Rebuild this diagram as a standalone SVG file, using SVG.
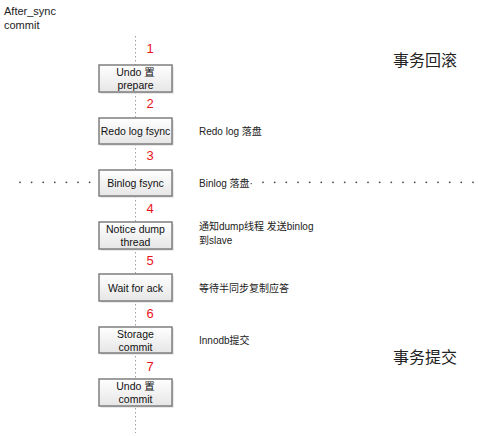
<svg xmlns="http://www.w3.org/2000/svg" width="478" height="436" viewBox="0 0 478 436">
<style>
.box{fill:url(#g);stroke:#7f7f7f;stroke-width:1.5}
.sh{fill:#d4d4d4}
.bt{font-family:"Liberation Sans","Noto Sans CJK SC",sans-serif;font-size:10.5px;fill:#111;text-anchor:middle}
.num{font-family:"Liberation Sans",sans-serif;font-size:13px;fill:#e8141c;text-anchor:middle}
.lb{font-family:"Liberation Sans","Noto Sans CJK SC",sans-serif;font-size:10px;fill:#222}
.big{font-family:"Noto Sans CJK SC",sans-serif;font-size:16px;fill:#222}
.vl{stroke:#a0a0a0;stroke-width:1;stroke-dasharray:1.5 2.5;fill:none}
.dot{fill:#444}
</style>
<defs>
<linearGradient id="g" x1="0" y1="0" x2="0" y2="1">
<stop offset="0" stop-color="#ffffff"/>
<stop offset="1" stop-color="#e6e6e6"/>
</linearGradient>
</defs>
<text class="lb" x="4" y="15" style="font-size:11px">After_sync</text>
<text class="lb" x="4" y="29" style="font-size:11px">commit</text>
<g id="connectors">
<line class="vl" x1="135.5" y1="36" x2="135.5" y2="433"/>
<g id="hdots">
<circle class="dot" cx="20" cy="182.3" r="0.9"/><circle class="dot" cx="31.6" cy="182.3" r="0.9"/><circle class="dot" cx="43.2" cy="182.3" r="0.9"/><circle class="dot" cx="54.8" cy="182.3" r="0.9"/><circle class="dot" cx="66.4" cy="182.3" r="0.9"/><circle class="dot" cx="78" cy="182.3" r="0.9"/><circle class="dot" cx="89.6" cy="182.3" r="0.9"/>
<circle class="dot" cx="263" cy="182.3" r="0.9"/><circle class="dot" cx="274.7" cy="182.3" r="0.9"/><circle class="dot" cx="286.3" cy="182.3" r="0.9"/><circle class="dot" cx="298" cy="182.3" r="0.9"/><circle class="dot" cx="309.7" cy="182.3" r="0.9"/><circle class="dot" cx="321.3" cy="182.3" r="0.9"/><circle class="dot" cx="333" cy="182.3" r="0.9"/><circle class="dot" cx="344.7" cy="182.3" r="0.9"/><circle class="dot" cx="356.3" cy="182.3" r="0.9"/><circle class="dot" cx="368" cy="182.3" r="0.9"/><circle class="dot" cx="379.7" cy="182.3" r="0.9"/><circle class="dot" cx="391.3" cy="182.3" r="0.9"/><circle class="dot" cx="403" cy="182.3" r="0.9"/><circle class="dot" cx="414.7" cy="182.3" r="0.9"/><circle class="dot" cx="426.3" cy="182.3" r="0.9"/><circle class="dot" cx="438" cy="182.3" r="0.9"/><circle class="dot" cx="449.7" cy="182.3" r="0.9"/><circle class="dot" cx="461.3" cy="182.3" r="0.9"/><circle class="dot" cx="473" cy="182.3" r="0.9"/>
</g>
</g>
<g id="n1"><rect class="sh" x="100.5" y="66.5" width="73" height="27"/><rect class="box" x="99" y="65" width="73" height="27"/><text class="bt" x="135.5" y="76">Undo 置</text><text class="bt" x="135.5" y="89">prepare</text></g>
<g id="n2"><rect class="sh" x="100.5" y="119.5" width="73" height="26"/><rect class="box" x="99" y="118" width="73" height="26"/><text class="bt" x="135.5" y="135">Redo log fsync</text></g>
<g id="n3"><rect class="sh" x="100.5" y="171.5" width="73" height="26"/><rect class="box" x="99" y="170" width="73" height="26"/><text class="bt" x="135.5" y="187">Binlog fsync</text></g>
<g id="n4"><rect class="sh" x="100.5" y="223.5" width="73" height="27"/><rect class="box" x="99" y="222" width="73" height="27"/><text class="bt" x="135.5" y="233">Notice dump</text><text class="bt" x="135.5" y="246">thread</text></g>
<g id="n5"><rect class="sh" x="100.5" y="275.5" width="73" height="27"/><rect class="box" x="99" y="274" width="73" height="27"/><text class="bt" x="135.5" y="291.5">Wait for ack</text></g>
<g id="n6"><rect class="sh" x="100.5" y="328.5" width="73" height="26"/><rect class="box" x="99" y="327" width="73" height="26"/><text class="bt" x="135.5" y="337.5">Storage</text><text class="bt" x="135.5" y="350.5">commit</text></g>
<g id="n7"><rect class="sh" x="100.5" y="380.5" width="73" height="27"/><rect class="box" x="99" y="379" width="73" height="27"/><text class="bt" x="135.5" y="390">Undo 置</text><text class="bt" x="135.5" y="403">commit</text></g>
<g id="nums">
<text class="num" x="150" y="53">1</text>
<text class="num" x="150" y="108">2</text>
<text class="num" x="150" y="160">3</text>
<text class="num" x="150" y="213">4</text>
<text class="num" x="150" y="265">5</text>
<text class="num" x="150" y="318">6</text>
<text class="num" x="150" y="371">7</text>
</g>
<g id="labels">
<text class="lb" x="199" y="135">Redo log 落盘</text>
<text class="lb" x="199" y="186.5">Binlog 落盘·</text>
<text class="lb" x="199" y="230">通知dump线程 发送binlog</text>
<text class="lb" x="199" y="244">到slave</text>
<text class="lb" x="199" y="292">等待半同步复制应答</text>
<text class="lb" x="199" y="344">Innodb提交</text>
<text class="big" x="393" y="66">事务回滚</text>
<text class="big" x="393" y="363">事务提交</text>
</g>
</svg>
